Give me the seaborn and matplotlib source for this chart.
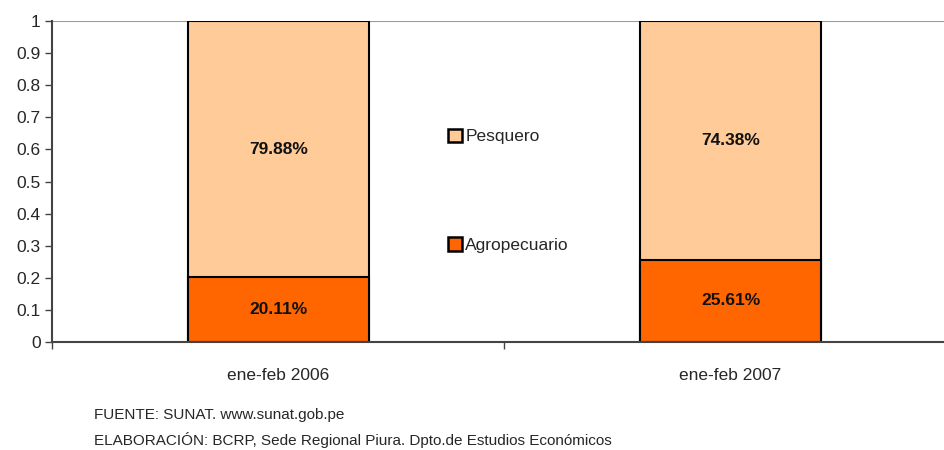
import matplotlib
matplotlib.use("Agg")
import matplotlib.pyplot as plt
from matplotlib.patches import Patch
import pandas as pd
import seaborn as sns

# values (share of total, 0-1)
periods = ["ene-feb 2006", "ene-feb 2007"]
agropecuario = [0.2011, 0.2561]
pesquero = [0.7988, 0.7438]
agro_labels = ["20.11%", "25.61%"]
pesq_labels = ["79.88%", "74.38%"]
yticks = [0, 0.1, 0.2, 0.3, 0.4, 0.5, 0.6, 0.7, 0.8, 0.9, 1]
ytick_labels = ["0", "0.1", "0.2", "0.3", "0.4", "0.5", "0.6", "0.7", "0.8", "0.9", "1"]

COL_PESQ = "#FFCC99"
COL_AGRO = "#FF6600"

sns.set_theme(style="ticks")
plt.rcParams["font.family"] = ["Liberation Sans", "DejaVu Sans"]

df = pd.DataFrame({
    "period": periods,
    "agro": agropecuario,
    "total": [a + p for a, p in zip(agropecuario, pesquero)],
})

fig = plt.figure(figsize=(9.45, 4.5), dpi=100)
ax = fig.add_axes([0.055, 0.24, 0.945, 0.713])

# stacked: total bar in pesquero colour, agro bar drawn over it
sns.barplot(data=df, x="period", y="total", order=periods, color=COL_PESQ,
            width=0.4, edgecolor="black", linewidth=1.5, saturation=1, ax=ax)
sns.barplot(data=df, x="period", y="agro", order=periods, color=COL_AGRO,
            width=0.4, edgecolor="black", linewidth=1.5, saturation=1, ax=ax)

for i in range(len(periods)):
    ax.text(i, agropecuario[i] / 2, agro_labels[i], ha="center", va="center",
            fontsize=12.5, fontweight="bold", color="#111111")
    ax.text(i, agropecuario[i] + pesquero[i] / 2, pesq_labels[i], ha="center",
            va="center", fontsize=12.5, fontweight="bold", color="#111111")

ax.set_yticks(yticks)
ax.set_yticklabels(ytick_labels, fontsize=12.5)
ax.axhline(1, color="#999999", lw=1.5, zorder=0)

ax.tick_params(axis="x", which="major", length=0, pad=19, labelsize=12.5)
ax.set_xticks([-0.5, 0.5], minor=True)
ax.tick_params(axis="x", which="minor", length=5, width=1, color="#444444")
ax.tick_params(axis="y", length=5, width=1, color="#444444", pad=3)
ax.set_xlim(-0.501, 1.4745)
ax.set_ylim(0, 1)

ax.set_xlabel("")
ax.set_ylabel("")
for side in ("top", "right"):
    ax.spines[side].set_visible(False)
for side in ("left", "bottom"):
    ax.spines[side].set_color("#444444")
    ax.spines[side].set_linewidth(1.5)

handles = [
    Patch(facecolor=COL_PESQ, edgecolor="black", linewidth=1.8, label="Pesquero"),
    Patch(facecolor=COL_AGRO, edgecolor="black", linewidth=1.8, label="Agropecuario"),
]
ax.legend(handles=handles, loc="center", bbox_to_anchor=(0.538, 0.576),
          bbox_transform=fig.transFigure, frameon=False, fontsize=12.5,
          handlelength=0.8, handleheight=0.8, handletextpad=0.2,
          labelspacing=5.35, borderaxespad=0)

fig.text(0.1, 0.078, "FUENTE: SUNAT. www.sunat.gob.pe", fontsize=11, va="center")
fig.text(0.1, 0.022, "ELABORACIÓN: BCRP, Sede Regional Piura. Dpto.de Estudios Económicos",
         fontsize=11, va="center")

fig.savefig("out.png", dpi=100)
